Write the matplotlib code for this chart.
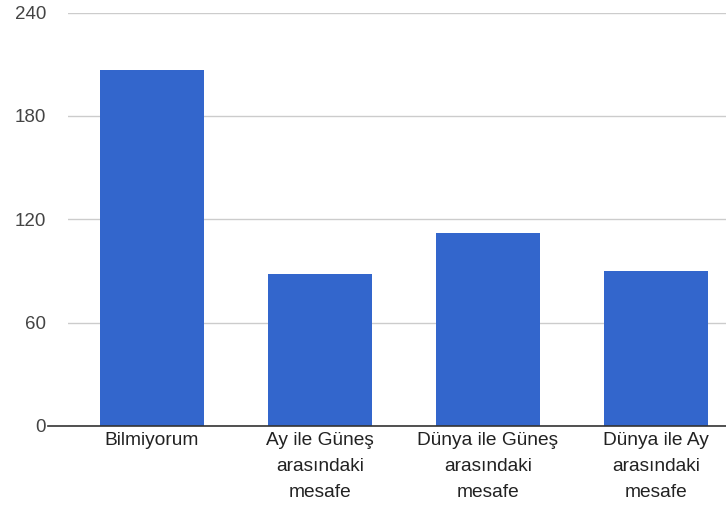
import matplotlib
matplotlib.use("Agg")
import matplotlib.pyplot as plt
from matplotlib.lines import Line2D

categories = ["Bilmiyorum", "Ay ile Güneş\narasındaki\nmesafe",
              "Dünya ile Güneş\narasındaki\nmesafe", "Dünya ile Ay\narasındaki\nmesafe"]
values = [207, 88, 112, 90]
yticks = [0, 60, 120, 180, 240]

plt.rcParams['font.family'] = ['Liberation Sans', 'DejaVu Sans']

W, H = 726, 509
fig = plt.figure(figsize=(W / 100, H / 100), dpi=100)
left, right, bottom, top = 67.7, 740.0, 425.9, 12.7
ax = fig.add_axes([left / W, (H - bottom) / H, (right - left) / W, (bottom - top) / H])

x = list(range(len(categories)))
ax.bar(x, values, width=0.62, color="#3366CC", zorder=3)
ax.set_xlim(-0.5, len(categories) - 0.5)
ax.set_ylim(0, 240)
ax.set_yticks(yticks)
ax.set_yticklabels([str(t) for t in yticks])
ax.set_xticks(x)
ax.set_xticklabels(categories, linespacing=1.68)

for s in ax.spines.values():
    s.set_visible(False)
ax.grid(axis="y", color="#cccccc", linewidth=1, zorder=0)
ax.tick_params(axis="y", length=0, pad=15.5, labelsize=13.5, labelcolor="#444444")
ax.tick_params(axis="x", length=0, pad=4.5, labelsize=13.8, labelcolor="#222222")

# zero baseline extending left of plot area
fig.add_artist(Line2D([48 / W, 1.0], [(H - bottom) / H, (H - bottom) / H],
                      color="#333333", linewidth=1.2, zorder=5))

fig.savefig("out.png", dpi=100)
